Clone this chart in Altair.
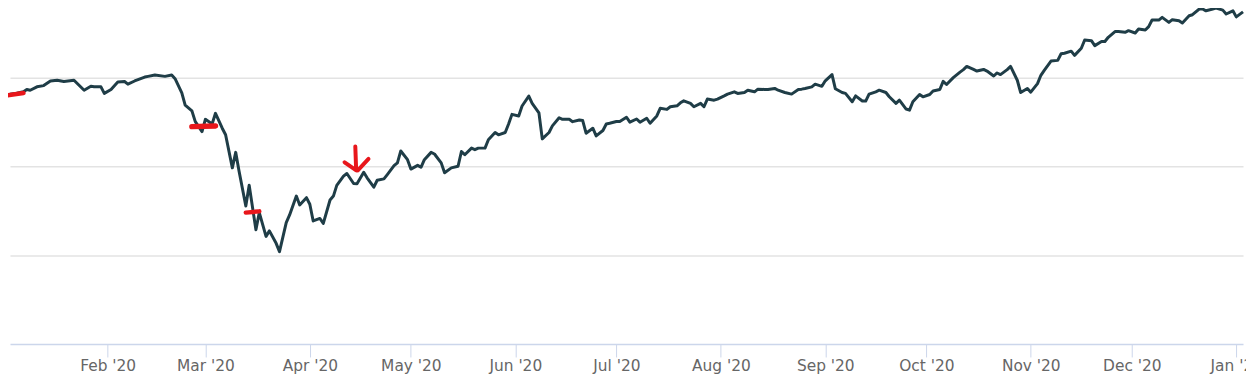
import altair as alt
import pandas as pd

# ---- series: daily closes ----
dates = [
    "2020-01-03", "2020-01-05", "2020-01-07", "2020-01-08", "2020-01-09", "2020-01-11", "2020-01-13", "2020-01-15",
    "2020-01-17", "2020-01-19", "2020-01-22", "2020-01-25", "2020-01-27", "2020-01-28", "2020-01-30", "2020-01-31",
    "2020-02-02", "2020-02-04", "2020-02-06", "2020-02-07", "2020-02-09", "2020-02-12", "2020-02-13", "2020-02-15",
    "2020-02-18", "2020-02-20", "2020-02-21", "2020-02-23", "2020-02-24", "2020-02-26", "2020-02-27", "2020-02-29",
    "2020-03-01", "2020-03-03", "2020-03-04", "2020-03-06", "2020-03-07", "2020-03-09", "2020-03-10", "2020-03-11",
    "2020-03-13", "2020-03-14", "2020-03-16", "2020-03-17", "2020-03-19", "2020-03-20", "2020-03-22", "2020-03-23",
    "2020-03-25", "2020-03-26", "2020-03-28", "2020-03-29", "2020-03-31",
    "2020-04-01", "2020-04-02", "2020-04-04", "2020-04-05", "2020-04-07", "2020-04-08", "2020-04-09", "2020-04-11",
    "2020-04-12", "2020-04-14", "2020-04-15", "2020-04-17", "2020-04-18", "2020-04-20", "2020-04-21", "2020-04-23",
    "2020-04-24", "2020-04-26", "2020-04-27", "2020-04-28", "2020-04-30",
    "2020-05-01", "2020-05-03", "2020-05-04", "2020-05-05", "2020-05-07", "2020-05-08", "2020-05-10", "2020-05-11",
    "2020-05-13", "2020-05-15", "2020-05-16", "2020-05-17", "2020-05-19", "2020-05-20", "2020-05-21", "2020-05-23",
    "2020-05-24", "2020-05-26", "2020-05-27", "2020-05-29", "2020-05-30", "2020-05-31",
    "2020-06-02", "2020-06-03", "2020-06-05", "2020-06-06", "2020-06-08", "2020-06-09", "2020-06-11", "2020-06-12",
    "2020-06-14", "2020-06-15", "2020-06-17", "2020-06-18", "2020-06-20", "2020-06-21", "2020-06-22", "2020-06-24",
    "2020-06-25", "2020-06-27", "2020-06-28", "2020-06-29",
    "2020-07-01", "2020-07-02", "2020-07-04", "2020-07-05", "2020-07-07", "2020-07-08", "2020-07-10", "2020-07-11",
    "2020-07-13", "2020-07-14", "2020-07-16", "2020-07-17", "2020-07-19", "2020-07-20", "2020-07-21", "2020-07-23",
    "2020-07-24", "2020-07-26", "2020-07-27", "2020-07-28", "2020-07-30", "2020-07-31",
    "2020-08-02", "2020-08-03", "2020-08-05", "2020-08-06", "2020-08-08", "2020-08-09", "2020-08-11", "2020-08-12",
    "2020-08-14", "2020-08-15", "2020-08-17", "2020-08-18", "2020-08-20", "2020-08-22", "2020-08-24", "2020-08-25",
    "2020-08-26", "2020-08-28", "2020-08-29", "2020-08-31",
    "2020-09-01", "2020-09-03", "2020-09-04", "2020-09-06", "2020-09-07", "2020-09-09", "2020-09-10", "2020-09-12",
    "2020-09-13", "2020-09-14", "2020-09-16", "2020-09-17", "2020-09-19", "2020-09-20", "2020-09-22", "2020-09-23",
    "2020-09-25", "2020-09-26", "2020-09-27", "2020-09-29", "2020-09-30",
    "2020-10-02", "2020-10-03", "2020-10-05", "2020-10-06", "2020-10-07", "2020-10-09", "2020-10-11", "2020-10-12",
    "2020-10-13", "2020-10-15", "2020-10-16", "2020-10-18", "2020-10-19", "2020-10-21", "2020-10-22", "2020-10-23",
    "2020-10-25", "2020-10-26", "2020-10-28", "2020-10-29", "2020-10-31",
    "2020-11-01", "2020-11-03", "2020-11-04", "2020-11-05", "2020-11-07", "2020-11-09", "2020-11-10", "2020-11-11",
    "2020-11-13", "2020-11-14", "2020-11-16", "2020-11-17", "2020-11-19", "2020-11-20", "2020-11-22", "2020-11-23",
    "2020-11-24", "2020-11-26", "2020-11-27", "2020-11-29", "2020-11-30",
    "2020-12-02", "2020-12-03", "2020-12-05", "2020-12-06", "2020-12-07", "2020-12-09", "2020-12-10", "2020-12-12",
    "2020-12-13", "2020-12-15", "2020-12-16", "2020-12-18", "2020-12-19", "2020-12-21", "2020-12-22", "2020-12-23",
    "2020-12-25", "2020-12-26", "2020-12-28", "2020-12-29", "2020-12-31",
    "2021-01-01", "2021-01-03",
]

values = [
    3407, 3412, 3420, 3433, 3429, 3448, 3455, 3481, 3485, 3478, 3485, 3429, 3451, 3448, 3448, 3411,
    3433, 3475, 3478, 3463, 3481, 3503, 3507, 3515, 3507, 3515, 3494, 3414, 3345, 3313, 3252, 3196,
    3265, 3239, 3299, 3215, 3178, 2992, 3079, 2973, 2777, 2894, 2643, 2740, 2606, 2637, 2567, 2520,
    2684, 2727, 2833, 2783, 2824,
    2787, 2693, 2707, 2679, 2811, 2833, 2893, 2945, 2960, 2904, 2902, 2967, 2936, 2883, 2922, 2930,
    2954, 3004, 3020, 3087, 3038,
    2985, 3006, 2995, 3038, 3079, 3070, 3020, 2964, 2992, 3001, 3084, 3066, 3103, 3094, 3103, 3103,
    3150, 3191, 3178, 3191, 3239, 3293,
    3284, 3340, 3396, 3355, 3302, 3155, 3191, 3228, 3274, 3265, 3265, 3252, 3261, 3258, 3187, 3215,
    3172, 3202, 3239, 3243,
    3253, 3253, 3277, 3249, 3267, 3249, 3271, 3243, 3284, 3327, 3321, 3336, 3341, 3358, 3369, 3355,
    3336, 3355, 3336, 3379, 3373, 3379,
    3397, 3407, 3420, 3411, 3416, 3429, 3420, 3435, 3433, 3433, 3439, 3429, 3416, 3407, 3433, 3435,
    3439, 3448, 3463, 3451,
    3482, 3517, 3437, 3416, 3411, 3364, 3397, 3368, 3368, 3407, 3420, 3429, 3416, 3392, 3355, 3373,
    3323, 3317, 3364, 3405, 3392,
    3405, 3425, 3433, 3479, 3461, 3500, 3531, 3545, 3563, 3546, 3537, 3546, 3537, 3509, 3526, 3517,
    3545, 3563, 3485, 3416, 3439,
    3418, 3466, 3513, 3541, 3593, 3597, 3634, 3637, 3649, 3625, 3665, 3712, 3708, 3680, 3703, 3703,
    3727, 3759, 3759, 3755, 3764,
    3751, 3774, 3768, 3787, 3824, 3824, 3839, 3811, 3826, 3820, 3807, 3848, 3854, 3886, 3886, 3876,
    3886, 3891, 3880, 3858, 3876,
    3842, 3870,
]

assert len(dates) == len(values)

# ---- hand-drawn red marks (annotation strokes, in data units) ----
ann_start = ["2019-12-31T00:00", "2020-02-26T00:00", "2020-03-13T00:00",
             "2020-04-14T12:00", "2020-04-11T08:00", "2020-04-18T10:00"]
ann_end = ["2020-01-07T00:00", "2020-03-04T00:00", "2020-03-17T00:00",
           "2020-04-14T18:00", "2020-04-14T19:00", "2020-04-15T06:00"]
ann_v1 = [3394, 3224, 2740, 3112, 3023, 3042]
ann_v2 = [3413, 3228, 2747, 2982, 2978, 2978]
ann_w = [4.5, 5.5, 4.5, 4, 4, 4]

# ---- axis ----
tick_months = [(2020, m) for m in range(2, 13)] + [(2021, 1)]

df = pd.DataFrame({"date": pd.to_datetime(dates), "value": values})
ann = pd.DataFrame({
    "start": pd.to_datetime(ann_start),
    "end": pd.to_datetime(ann_end),
    "v1": ann_v1,
    "v2": ann_v2,
    "w": ann_w,
})

x_scale = alt.Scale(domain=[alt.DateTime(year=2020, month=1, date=3),
                            alt.DateTime(year=2021, month=1, date=3)])
y_scale = alt.Scale(domain=[2000, 3885], zero=False, nice=False)

x_axis = alt.Axis(
    values=[alt.DateTime(year=y, month=m, date=1) for y, m in tick_months],
    format="%b '%y",
    title=None,
    grid=False,
    domainColor="#ccd6eb",
    domainWidth=1.5,
    tickColor="#ccd6eb",
    tickWidth=1,
    tickSize=13,
    labelPadding=2,
    labelFont="DejaVu Sans",
    labelFontSize=15.5,
    labelColor="#666666",
    labelOverlap=False,
)
y_axis = alt.Axis(
    values=[2500, 3000, 3500],
    labels=False,
    ticks=False,
    domain=False,
    title=None,
    grid=True,
    gridColor="#e3e3e3",
    gridWidth=1.5,
    minExtent=0,
    maxExtent=0,
)

line = alt.Chart(df).mark_line(color="#1f3d47", strokeWidth=3, strokeJoin="round").encode(
    x=alt.X("date:T", scale=x_scale, axis=x_axis),
    y=alt.Y("value:Q", scale=y_scale, axis=y_axis),
)

marks = alt.Chart(ann).mark_rule(color="#e8161b", strokeCap="round").encode(
    x=alt.X("start:T", scale=x_scale),
    x2="end:T",
    y=alt.Y("v1:Q", scale=y_scale),
    y2="v2:Q",
    strokeWidth=alt.StrokeWidth("w:Q", scale=None, legend=None),
)

chart = (
    alt.layer(line, marks)
    .properties(
        width=1241,
        height=337,
        autosize=alt.AutoSizeParams(type="none"),
        padding={"left": 2, "right": 3, "top": 0, "bottom": 41},
        background="white",
    )
    .configure_view(strokeWidth=0)
)

chart.save("out.html", embed_options={"renderer": "svg", "actions": False})
